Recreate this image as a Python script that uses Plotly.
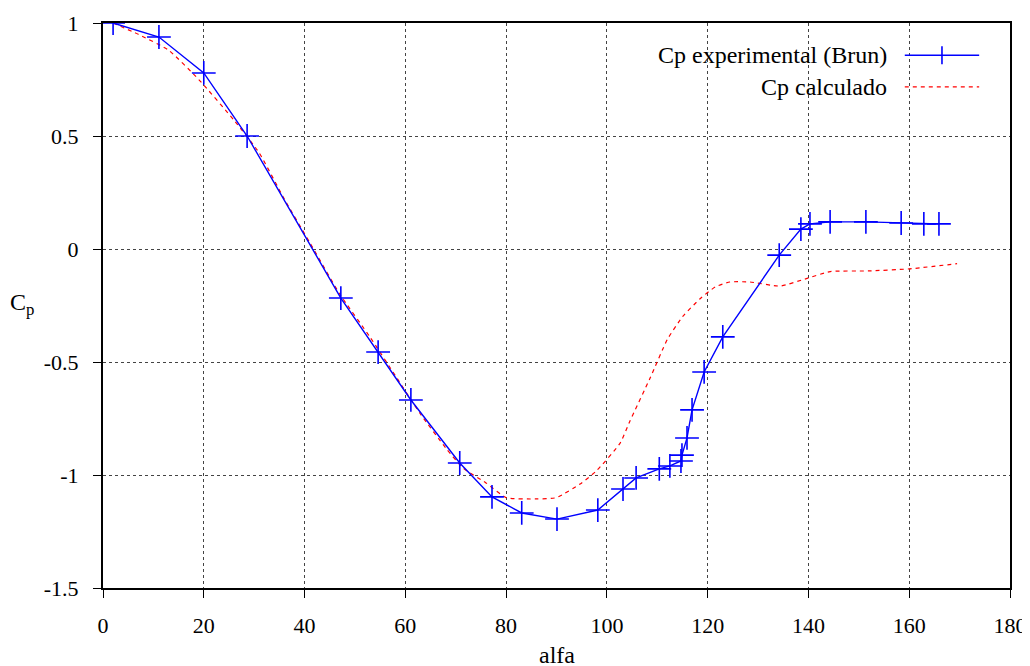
import plotly.graph_objects as go

# Experimental Cp (Brun)
exp_alfa = [2.0, 11.1, 20.0, 28.6, 47.2, 54.6, 61.1, 70.8, 77.2, 83.1, 90.1, 98.2,
            103.2, 105.8, 110.4, 112.5, 114.7, 114.9, 115.9, 116.9, 119.3, 123.0,
            134.2, 138.5, 140.3, 144.3, 151.4, 158.4, 162.9, 165.9]
exp_cp = [1.0, 0.938, 0.779, 0.50, -0.217, -0.456, -0.668, -0.947, -1.097, -1.168, -1.195, -1.155,
          -1.062, -1.013, -0.973, -0.960, -0.938, -0.912, -0.836, -0.712, -0.544, -0.389,
          -0.027, 0.088, 0.111, 0.120, 0.120, 0.115, 0.111, 0.111]

# Calculated Cp
calc_alfa = [2, 7, 13, 19, 26, 31, 36, 41, 47, 53, 58, 63, 68, 71.5, 76, 80, 86, 90, 95, 98,
             102.6, 104.6, 108.6, 112, 115, 118.5, 121.5, 124.4, 128.4, 134.4, 139.3, 144.3,
             152, 160, 169.5]
calc_cp = [1.0, 0.95, 0.88, 0.75, 0.57, 0.425, 0.22, 0.03, -0.2, -0.39, -0.56, -0.73, -0.88,
           -0.97, -1.035, -1.10, -1.106, -1.10, -1.035, -0.98, -0.86, -0.76, -0.57, -0.40,
           -0.30, -0.22, -0.168, -0.146, -0.146, -0.164, -0.133, -0.10, -0.097, -0.088, -0.065]

x_ticks = [0, 20, 40, 60, 80, 100, 120, 140, 160, 180]
y_ticks = [-1.5, -1, -0.5, 0, 0.5, 1]
y_ticklabels = ["-1.5", "-1", "-0.5", "0", "0.5", "1"]

FONT = "'Times New Roman', 'Liberation Serif', 'DejaVu Serif', serif"
FS = 22
FL = 24

fig = go.Figure()
fig.add_trace(go.Scatter(
    x=calc_alfa, y=calc_cp, mode="lines", name="Cp calculado",
    line=dict(color="#ff0000", width=1.2, dash="4px,4px", shape="spline", smoothing=0.5),
    showlegend=False,
))
fig.add_trace(go.Scatter(
    x=exp_alfa, y=exp_cp, mode="lines+markers", name="Cp experimental (Brun)",
    line=dict(color="#0000ff", width=1.4),
    marker=dict(symbol="cross-thin", size=17, line=dict(color="#0000ff", width=1.6)),
    showlegend=False,
))

# Legend (gnuplot style: opaque key, text right-aligned, sample on the right)
leg_y = [0.943, 0.887]
fig.add_shape(type="rect", xref="paper", yref="paper", x0=0.60, x1=0.978, y0=0.850, y1=0.972,
              fillcolor="white", line=dict(width=0), layer="between")
fig.add_annotation(xref="paper", yref="paper", x=0.867, y=leg_y[0], text="Cp experimental (Brun)",
                   showarrow=False, xanchor="right", yanchor="middle",
                   font=dict(family=FONT, size=FL, color="black"))
fig.add_annotation(xref="paper", yref="paper", x=0.867, y=leg_y[1], text="Cp calculado",
                   showarrow=False, xanchor="right", yanchor="middle",
                   font=dict(family=FONT, size=FL, color="black"))
fig.add_shape(type="line", xref="paper", yref="paper", x0=0.884, x1=0.966, y0=leg_y[0], y1=leg_y[0],
              line=dict(color="#0000ff", width=1.4))
fig.add_shape(type="line", xref="paper", yref="paper", x0=0.925, x1=0.925,
              y0=leg_y[0] - 0.016, y1=leg_y[0] + 0.016, line=dict(color="#0000ff", width=1.6))
fig.add_shape(type="line", xref="paper", yref="paper", x0=0.884, x1=0.966, y0=leg_y[1], y1=leg_y[1],
              line=dict(color="#ff0000", width=1.2, dash="4px,4px"))

# Axis titles
fig.add_annotation(xref="paper", yref="paper", x=-0.089, y=0.503, text="C<sub>p</sub>",
                   showarrow=False, xanchor="center", yanchor="middle",
                   font=dict(family=FONT, size=FL, color="black"))
fig.add_annotation(xref="paper", yref="paper", x=0.5, y=-0.118, text="alfa",
                   showarrow=False, xanchor="center", yanchor="middle",
                   font=dict(family=FONT, size=FL, color="black"))

axis_common = dict(
    showline=True, linecolor="black", linewidth=2, mirror=True,
    ticks="outside", ticklen=8, tickcolor="black", tickwidth=1,
    showgrid=True, gridcolor="#444444", griddash="dot", gridwidth=1,
    zeroline=False, tickfont=dict(family=FONT, size=FS, color="black"),
    automargin=False,
)

fig.update_xaxes(range=[0, 180], tickvals=x_ticks, ticktext=[str(v) for v in x_ticks],
                 ticklabelstandoff=9, **axis_common)
fig.update_yaxes(range=[-1.5, 1], tickvals=y_ticks, ticktext=y_ticklabels,
                 ticklabelstandoff=10, **axis_common)

fig.update_layout(
    width=1030, height=666,
    margin=dict(l=95, r=28, t=15, b=86),
    plot_bgcolor="white", paper_bgcolor="white",
    font=dict(family=FONT, size=FS, color="black"),
)

fig.write_html("out.html")
